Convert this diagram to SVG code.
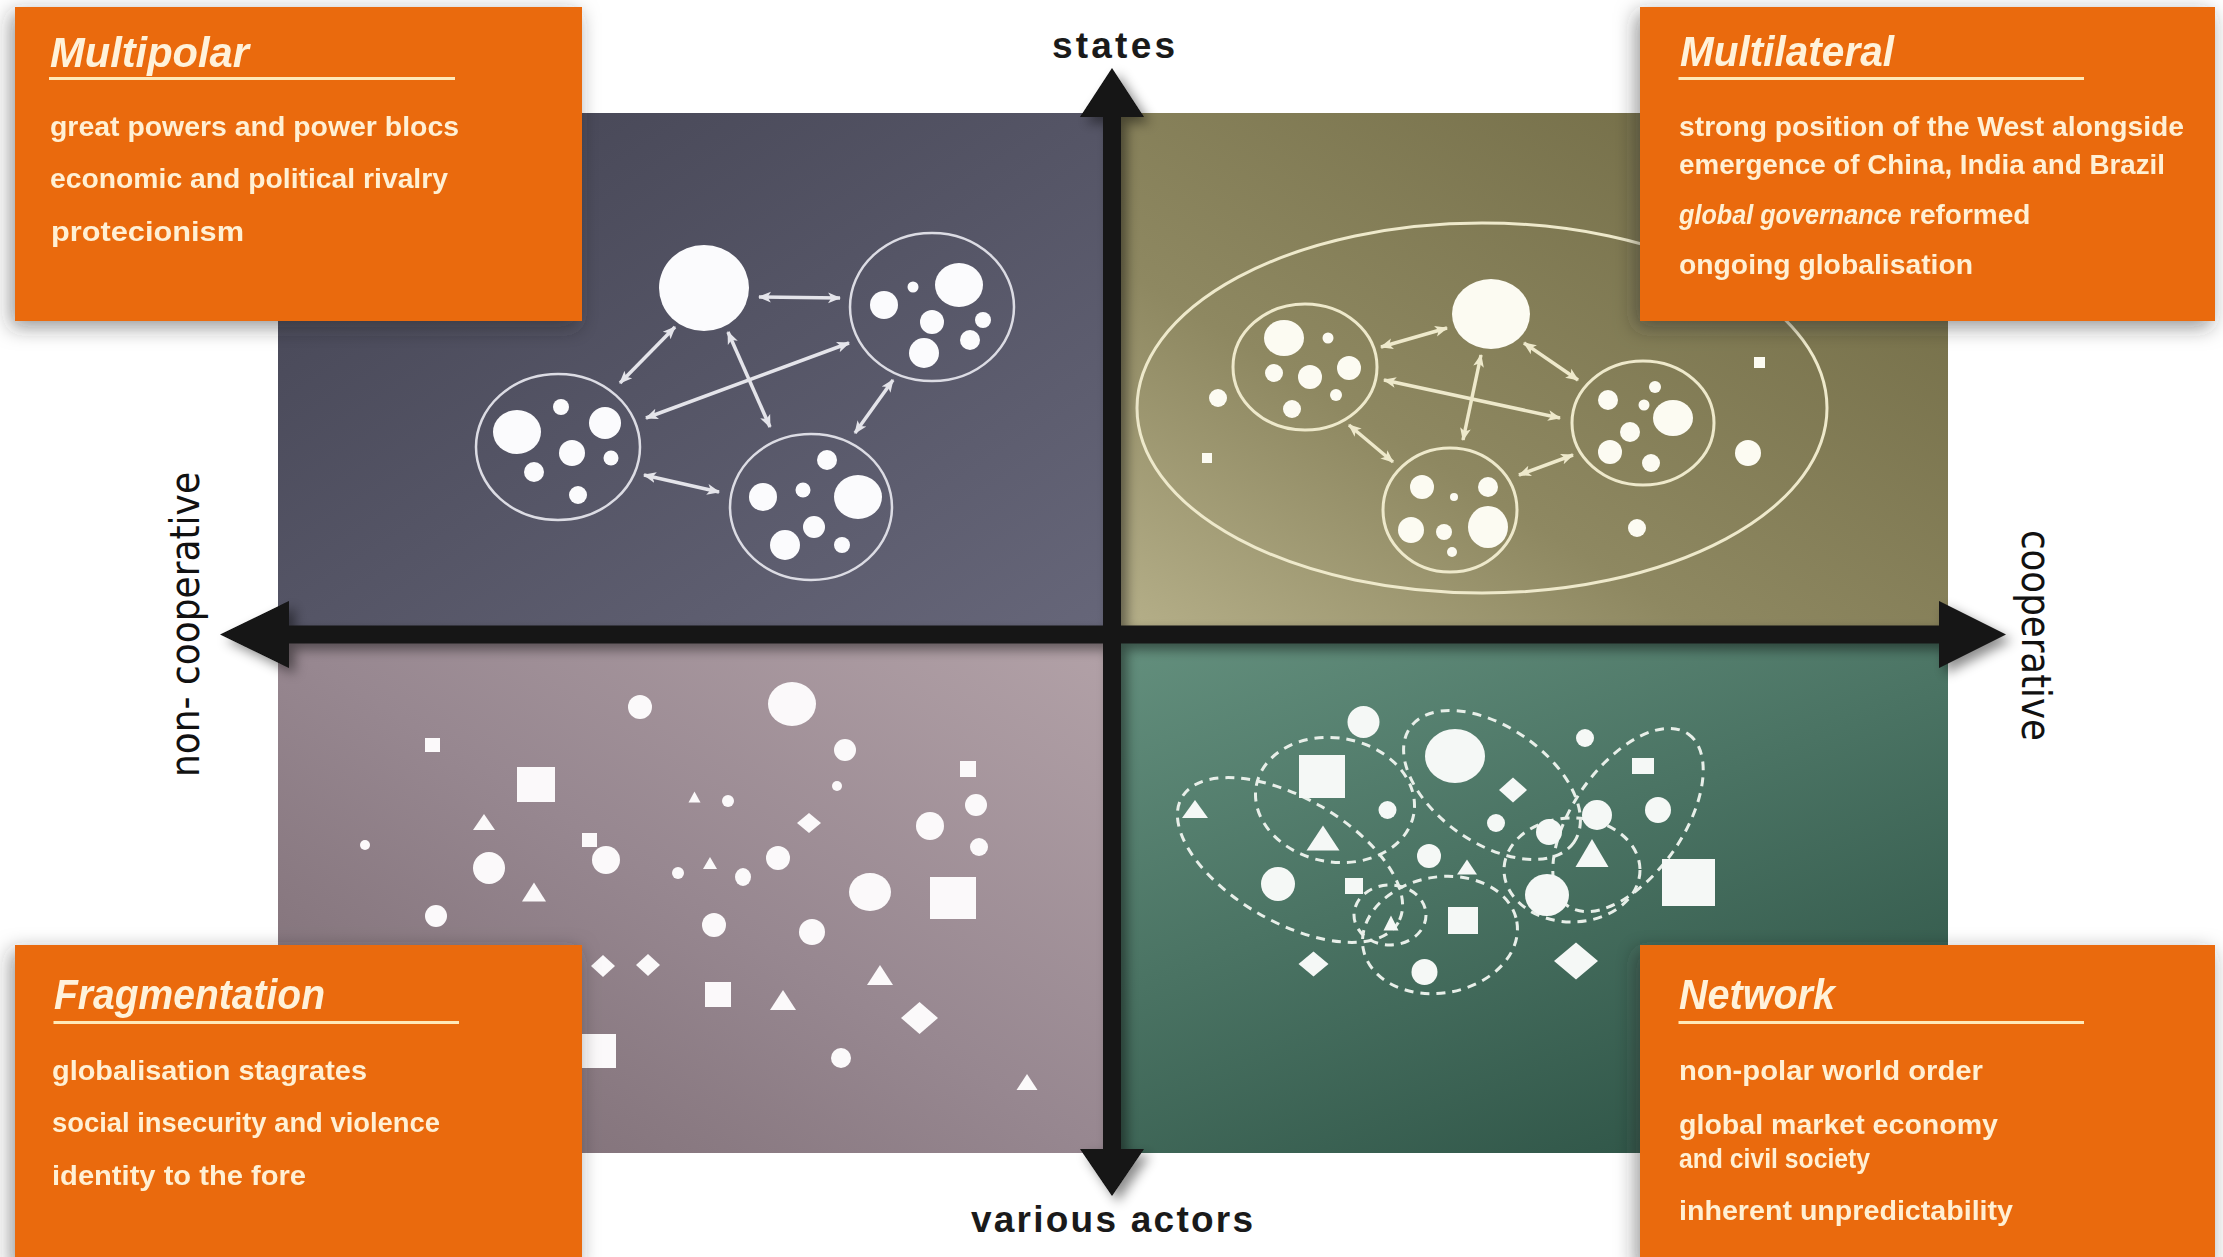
<svg xmlns="http://www.w3.org/2000/svg" width="2223" height="1257" viewBox="0 0 2223 1257">
<defs>
<style>
.title{font-family:"Liberation Sans",Arial,sans-serif;font-weight:bold;font-style:italic;font-size:42px;fill:#FFF2DA}
.body{font-family:"Liberation Sans",Arial,sans-serif;font-weight:bold;font-size:28px;fill:#FFF0D4}
.it{font-style:italic}
.rule{stroke:#FFE9B8;stroke-width:3}
.box{fill:#EA6B0C}
.axislbl{font-family:"Liberation Sans",Arial,sans-serif;font-weight:bold;font-size:37px;fill:#1a1a1a}
.side{font-family:"DejaVu Sans","Liberation Sans",sans-serif;font-size:40px;fill:#111}
.ringA{fill:none;stroke:#dcdce4;stroke-width:2.5}
.dotA{fill:#fbfbfd}
.ringB{fill:none;stroke:#eee9cb;stroke-width:3}
.dotB{fill:#fcfbf2}
.connA{stroke:#e4e4ea;stroke-width:3.5;fill:none;marker-start:url(#arrA);marker-end:url(#arrA)}
.connB{stroke:#eee9cb;stroke-width:3.5;fill:none;marker-start:url(#arrB);marker-end:url(#arrB)}
.shp{fill:#fbf9fa}
.shpG{fill:#f5f8f6}
.loop{fill:none;stroke:#e8efe9;stroke-width:3;stroke-dasharray:9 7}
.axis{fill:#121212}
</style>
<linearGradient id="gTL" x1="0" y1="0" x2="1" y2="1"><stop offset="0" stop-color="#434352"/><stop offset="1" stop-color="#666679"/></linearGradient>
<linearGradient id="gTR" x1="0" y1="1" x2="1" y2="0"><stop offset="0" stop-color="#b5af89"/><stop offset="0.35" stop-color="#8e8861"/><stop offset="1" stop-color="#6e6842"/></linearGradient>
<linearGradient id="gBL" x1="1" y1="0" x2="0" y2="1"><stop offset="0" stop-color="#b2a1a7"/><stop offset="0.5" stop-color="#978790"/><stop offset="1" stop-color="#7a6a71"/></linearGradient>
<linearGradient id="gBR" x1="0" y1="0" x2="0.6" y2="1"><stop offset="0" stop-color="#638f7d"/><stop offset="1" stop-color="#32584a"/></linearGradient>
<filter id="shadow" x="-10%" y="-15%" width="125%" height="140%"><feDropShadow dx="-4" dy="6" stdDeviation="10" flood-color="#2a2a2a" flood-opacity="0.5"/></filter>
<filter id="ashadow" x="-5%" y="-5%" width="115%" height="115%"><feDropShadow dx="6" dy="6" stdDeviation="6" flood-color="#000" flood-opacity="0.45"/></filter>
<marker id="arrA" viewBox="0 0 12 12" refX="11" refY="6" markerWidth="13" markerHeight="13" markerUnits="userSpaceOnUse" orient="auto-start-reverse"><path d="M0,1 L12,6 L0,11 L3,6 z" fill="#e4e4ea"/></marker>
<marker id="arrB" viewBox="0 0 12 12" refX="11" refY="6" markerWidth="13" markerHeight="13" markerUnits="userSpaceOnUse" orient="auto-start-reverse"><path d="M0,1 L12,6 L0,11 L3,6 z" fill="#eee9cb"/></marker>
</defs>
<rect width="2223" height="1257" fill="#ffffff"/>
<g id="quadrants">
<rect x="278" y="113" width="826" height="514" fill="url(#gTL)"/>
<rect x="1120" y="113" width="828" height="514" fill="url(#gTR)"/>
<rect x="278" y="642" width="826" height="511" fill="url(#gBL)"/>
<rect x="1120" y="642" width="828" height="511" fill="url(#gBR)"/>
</g>
<g id="multipolar-diagram">
<ellipse class="dotA" cx="704" cy="288" rx="45" ry="43"/>
<ellipse class="ringA" cx="932" cy="307" rx="82" ry="74"/>
<circle class="dotA" cx="913" cy="287" r="5.5"/><ellipse class="dotA" cx="959" cy="285" rx="24" ry="22"/><circle class="dotA" cx="884" cy="305" r="14"/><circle class="dotA" cx="932" cy="322" r="12"/><circle class="dotA" cx="983" cy="320" r="8"/><circle class="dotA" cx="970" cy="340" r="10"/><circle class="dotA" cx="924" cy="353" r="15"/>
<ellipse class="ringA" cx="558" cy="447" rx="82" ry="73"/>
<ellipse class="dotA" cx="517" cy="432" rx="24" ry="22"/><circle class="dotA" cx="561" cy="407" r="8"/><circle class="dotA" cx="605" cy="423" r="16"/><circle class="dotA" cx="572" cy="453" r="13"/><circle class="dotA" cx="611" cy="458" r="7.5"/><circle class="dotA" cx="534" cy="472" r="10"/><circle class="dotA" cx="578" cy="495" r="9"/>
<ellipse class="ringA" cx="811" cy="507" rx="81" ry="73"/>
<circle class="dotA" cx="827" cy="460" r="10"/><circle class="dotA" cx="763" cy="497" r="14"/><circle class="dotA" cx="803" cy="490" r="7.5"/><ellipse class="dotA" cx="858" cy="497" rx="24" ry="22"/><circle class="dotA" cx="814" cy="527" r="11"/><circle class="dotA" cx="785" cy="545" r="15"/><circle class="dotA" cx="842" cy="545" r="8"/>
</g>
<g id="multilateral-diagram">
<ellipse class="ringB" cx="1482" cy="408" rx="345" ry="185"/>
<ellipse class="dotB" cx="1491" cy="314" rx="39" ry="35"/>
<ellipse class="ringB" cx="1305" cy="367" rx="72" ry="63"/>
<ellipse class="dotB" cx="1284" cy="338" rx="20" ry="18"/><circle class="dotB" cx="1328" cy="338" r="5.5"/><circle class="dotB" cx="1274" cy="373" r="9"/><circle class="dotB" cx="1310" cy="377" r="12"/><circle class="dotB" cx="1349" cy="368" r="12"/><circle class="dotB" cx="1336" cy="395" r="6"/><circle class="dotB" cx="1292" cy="409" r="9"/>
<ellipse class="ringB" cx="1643" cy="423" rx="71" ry="62"/>
<circle class="dotB" cx="1655" cy="387" r="6"/><circle class="dotB" cx="1608" cy="400" r="10"/><circle class="dotB" cx="1644" cy="405" r="5.5"/><ellipse class="dotB" cx="1673" cy="418" rx="20" ry="18"/><circle class="dotB" cx="1630" cy="432" r="10"/><circle class="dotB" cx="1610" cy="452" r="12"/><circle class="dotB" cx="1651" cy="463" r="9"/>
<ellipse class="ringB" cx="1450" cy="510" rx="67" ry="62"/>
<circle class="dotB" cx="1422" cy="487" r="12"/><circle class="dotB" cx="1488" cy="487" r="10"/><circle class="dotB" cx="1454" cy="497" r="4"/><circle class="dotB" cx="1411" cy="530" r="13"/><circle class="dotB" cx="1444" cy="532" r="8"/><ellipse class="dotB" cx="1488" cy="527" rx="20" ry="21"/><circle class="dotB" cx="1452" cy="552" r="5"/>
<circle class="dotB" cx="1218" cy="398" r="9"/><rect class="dotB" x="1202" y="453" width="10" height="10"/><rect class="dotB" x="1754" y="357" width="11" height="11"/><circle class="dotB" cx="1748" cy="453" r="13"/><circle class="dotB" cx="1637" cy="528" r="9"/>
</g>
<g id="connectors">
<line class="connA" x1="759" y1="297" x2="840" y2="298"/>
<line class="connA" x1="675" y1="327" x2="620" y2="383"/>
<line class="connA" x1="728" y1="332" x2="770" y2="427"/>
<line class="connA" x1="849" y1="343" x2="646" y2="418"/>
<line class="connA" x1="893" y1="380" x2="855" y2="433"/>
<line class="connA" x1="644" y1="475" x2="719" y2="492"/>
<line class="connB" x1="1381" y1="347" x2="1447" y2="328"/>
<line class="connB" x1="1524" y1="343" x2="1578" y2="380"/>
<line class="connB" x1="1481" y1="355" x2="1463" y2="440"/>
<line class="connB" x1="1384" y1="380" x2="1560" y2="418"/>
<line class="connB" x1="1349" y1="425" x2="1393" y2="462"/>
<line class="connB" x1="1519" y1="475" x2="1573" y2="455"/>
</g>
<g id="fragmentation-diagram">
<circle class="shp" cx="640" cy="707" r="12"/><ellipse class="shp" cx="792" cy="704" rx="24" ry="22"/><circle class="shp" cx="845" cy="750" r="11"/><circle class="shp" cx="976" cy="805" r="11"/><circle class="shp" cx="930" cy="826" r="14"/><circle class="shp" cx="979" cy="847" r="9"/><circle class="shp" cx="489" cy="868" r="16"/><circle class="shp" cx="606" cy="860" r="14"/><circle class="shp" cx="778" cy="858" r="12"/><ellipse class="shp" cx="743" cy="877" rx="8" ry="9"/><ellipse class="shp" cx="870" cy="892" rx="21" ry="19"/><circle class="shp" cx="436" cy="916" r="11"/><circle class="shp" cx="714" cy="925" r="12"/><circle class="shp" cx="812" cy="932" r="13"/><circle class="shp" cx="841" cy="1058" r="10"/><circle class="shp" cx="678" cy="873" r="6"/><circle class="shp" cx="837" cy="786" r="5"/><circle class="shp" cx="728" cy="801" r="6"/><circle class="shp" cx="365" cy="845" r="5"/>
<rect class="shp" x="425" y="738" width="15" height="14"/><rect class="shp" x="960" y="761" width="16" height="16"/><rect class="shp" x="517" y="767" width="38" height="35"/><rect class="shp" x="582" y="833" width="15" height="14"/><rect class="shp" x="930" y="877" width="46" height="42"/><rect class="shp" x="705" y="982" width="26" height="25"/><rect class="shp" x="571" y="1034" width="45" height="34"/>
<polygon class="shp" points="694.5,791.5 700.5,802.5 688.5,802.5"/><polygon class="shp" points="484,814 495,830 473,830"/><polygon class="shp" points="710,857 717,869 703,869"/><polygon class="shp" points="534,882.5 546,901.5 522,901.5"/><polygon class="shp" points="880,965 893,985 867,985"/><polygon class="shp" points="783,990 796,1010 770,1010"/><polygon class="shp" points="1027,1074 1037.5,1090 1016.5,1090"/>
<polygon class="shp" points="809,813 821,823 809,833 797,823"/><polygon class="shp" points="603,955 615,966 603,977 591,966"/><polygon class="shp" points="648,954 660,965 648,976 636,965"/><polygon class="shp" points="919.5,1002 938,1018 919.5,1034 901,1018"/>
</g>
<g id="network-diagram">
<ellipse class="loop" cx="1290" cy="860" rx="125" ry="62" transform="rotate(30 1290 860)"/>
<ellipse class="loop" cx="1335" cy="800" rx="80" ry="62" transform="rotate(10 1335 800)"/>
<ellipse class="loop" cx="1492" cy="785" rx="100" ry="58" transform="rotate(35 1492 785)"/>
<ellipse class="loop" cx="1628" cy="820" rx="105" ry="55" transform="rotate(-55 1628 820)"/>
<ellipse class="loop" cx="1572" cy="870" rx="68" ry="52"/>
<ellipse class="loop" cx="1440" cy="935" rx="78" ry="58" transform="rotate(-10 1440 935)"/>
<ellipse class="loop" cx="1390" cy="915" rx="36" ry="30"/>
<circle class="shpG" cx="1363.5" cy="722" r="16"/><ellipse class="shpG" cx="1455" cy="756" rx="30" ry="27"/><circle class="shpG" cx="1585" cy="738" r="9"/><circle class="shpG" cx="1387.5" cy="810" r="9"/><circle class="shpG" cx="1597" cy="815" r="15"/><circle class="shpG" cx="1658" cy="810" r="13"/><circle class="shpG" cx="1496" cy="823" r="9"/><circle class="shpG" cx="1549" cy="832" r="13"/><circle class="shpG" cx="1429" cy="856" r="12"/><circle class="shpG" cx="1278" cy="884" r="17"/><ellipse class="shpG" cx="1547" cy="895" rx="22" ry="21"/><circle class="shpG" cx="1424.5" cy="972" r="13"/>
<rect class="shpG" x="1299" y="755" width="46" height="43"/><rect class="shpG" x="1632" y="758" width="22" height="16"/><rect class="shpG" x="1345" y="878" width="18" height="16"/><rect class="shpG" x="1662" y="859" width="53" height="47"/><rect class="shpG" x="1448" y="907" width="30" height="27"/>
<polygon class="shpG" points="1195,800 1208,818 1182,818"/><polygon class="shpG" points="1323,825.5 1339.5,850.5 1306.5,850.5"/><polygon class="shpG" points="1592,839 1608.5,867 1575.5,867"/><polygon class="shpG" points="1467,859.5 1477,874.5 1457,874.5"/><polygon class="shpG" points="1391,915.5 1398.5,930.5 1383.5,930.5"/>
<polygon class="shpG" points="1513,777.5 1527,790 1513,802.5 1499,790"/><polygon class="shpG" points="1313.5,951.5 1328.5,964 1313.5,976.5 1298.5,964"/><polygon class="shpG" points="1576,942.5 1598,961 1576,979.5 1554,961"/>
</g>
<g id="axes" filter="url(#ashadow)">
<rect class="axis" x="1103" y="112" width="18" height="1042"/>
<rect class="axis" x="285" y="625.5" width="1658" height="18"/>
<polygon class="axis" points="1112,68 1144,117 1080,117"/>
<polygon class="axis" points="1112,1196 1144,1149 1080,1149"/>
<polygon class="axis" points="220,634.5 289,601 289,668"/>
<polygon class="axis" points="2006,634.5 1939,601 1939,668"/>
</g>
<g id="axis-labels">
<text class="axislbl" x="1052" y="58" textLength="123" lengthAdjust="spacing">states</text>
<text class="axislbl" x="971" y="1232" textLength="282" lengthAdjust="spacing">various actors</text>
<text class="side" transform="translate(199,624.5) rotate(-90)" text-anchor="middle" textLength="305" lengthAdjust="spacingAndGlyphs">non- cooperative</text>
<text class="side" transform="translate(2022,635.5) rotate(90)" text-anchor="middle" textLength="211" lengthAdjust="spacingAndGlyphs">cooperative</text>
</g>
<g id="box-multipolar" filter="url(#shadow)">
<rect class="box" x="15" y="7" width="567" height="314"/>
<text class="title" x="50" y="67" textLength="199" lengthAdjust="spacingAndGlyphs">Multipolar</text>
<line class="rule" x1="49" y1="78.5" x2="455" y2="78.5"/>
<text class="body" x="50" y="136" textLength="409" lengthAdjust="spacingAndGlyphs">great powers and power blocs</text>
<text class="body" x="50" y="187.5" textLength="398" lengthAdjust="spacingAndGlyphs">economic and political rivalry</text>
<text class="body" x="51" y="241" textLength="193" lengthAdjust="spacingAndGlyphs">protecionism</text>
</g>
<g id="box-multilateral" filter="url(#shadow)">
<rect class="box" x="1640" y="7" width="575" height="314"/>
<text class="title" x="1680" y="66" textLength="214" lengthAdjust="spacingAndGlyphs">Multilateral</text>
<line class="rule" x1="1678.5" y1="78.5" x2="2084" y2="78.5"/>
<text class="body" x="1679" y="136" textLength="505" lengthAdjust="spacingAndGlyphs">strong position of the West alongside</text>
<text class="body" x="1679" y="174" textLength="486" lengthAdjust="spacingAndGlyphs">emergence of China, India and Brazil</text>
<text class="body it" transform="translate(1679,224) scale(0.9,1)">global governance</text>
<text class="body" x="1909" y="224">reformed</text>
<text class="body" x="1679" y="273.5" textLength="294" lengthAdjust="spacingAndGlyphs">ongoing globalisation</text>
</g>
<g id="box-fragmentation" filter="url(#shadow)">
<rect class="box" x="15" y="945" width="567" height="320"/>
<text class="title" x="54" y="1009" textLength="271" lengthAdjust="spacingAndGlyphs">Fragmentation</text>
<line class="rule" x1="53.5" y1="1022.5" x2="459" y2="1022.5"/>
<text class="body" x="52" y="1080" textLength="315" lengthAdjust="spacingAndGlyphs">globalisation stagrates</text>
<text class="body" x="52" y="1131.5" textLength="388" lengthAdjust="spacingAndGlyphs">social insecurity and violence</text>
<text class="body" x="52" y="1185" textLength="254" lengthAdjust="spacingAndGlyphs">identity to the fore</text>
</g>
<g id="box-network" filter="url(#shadow)">
<rect class="box" x="1640" y="945" width="575" height="320"/>
<text class="title" x="1679" y="1009" textLength="156" lengthAdjust="spacingAndGlyphs">Network</text>
<line class="rule" x1="1678.5" y1="1022.5" x2="2084" y2="1022.5"/>
<text class="body" x="1679" y="1080" textLength="304" lengthAdjust="spacingAndGlyphs">non-polar world order</text>
<text class="body" x="1679" y="1133.5" textLength="319" lengthAdjust="spacingAndGlyphs">global market economy</text>
<text class="body" x="1679" y="1168" textLength="191" lengthAdjust="spacingAndGlyphs">and civil society</text>
<text class="body" x="1679" y="1219.5" textLength="334" lengthAdjust="spacingAndGlyphs">inherent unpredictability</text>
</g>
</svg>
